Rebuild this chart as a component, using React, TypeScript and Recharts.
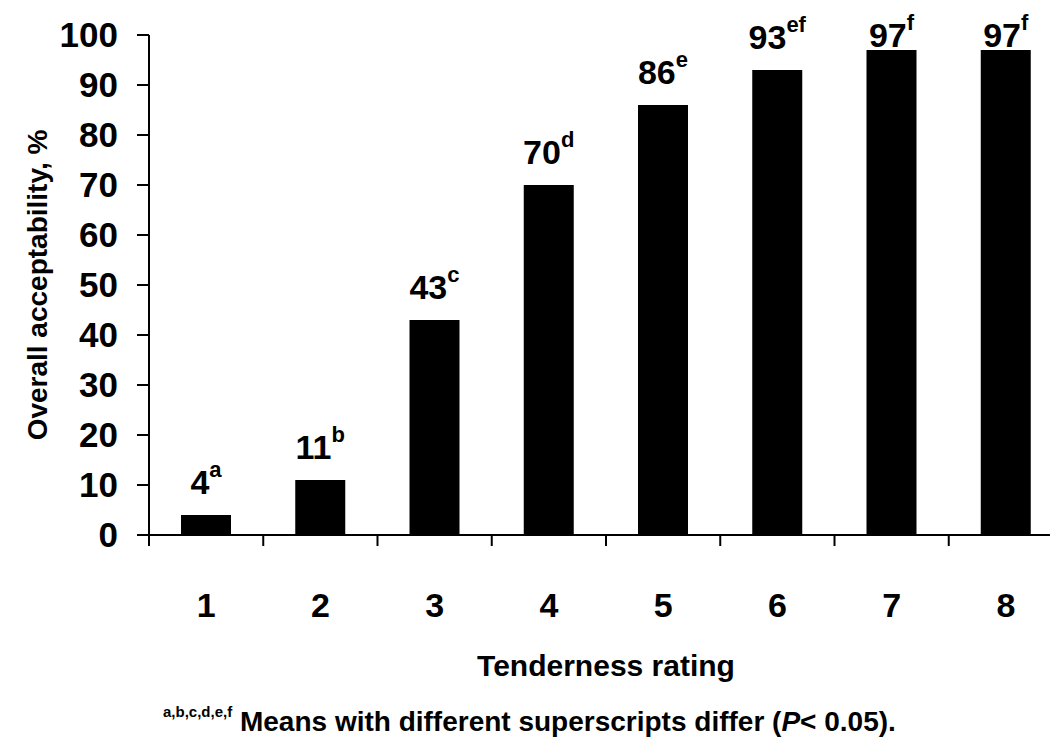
import { Bar, BarChart, LabelList, XAxis, YAxis } from "recharts";

const ratings = ["1", "2", "3", "4", "5", "6", "7", "8"];
const acceptability = [4, 11, 43, 70, 86, 93, 97, 97];
const superscripts = ["a", "b", "c", "d", "e", "ef", "f", "f"];
const yTicks = [0, 10, 20, 30, 40, 50, 60, 70, 80, 90, 100];

const data = ratings.map((rating, i) => ({
  rating,
  value: acceptability[i],
  sup: superscripts[i],
}));

const FONT = "'Liberation Sans', Arial, Helvetica, sans-serif";

// ticks sit between the categories, labels under the centres
function RatingTick(props: any) {
  const { x, y, payload } = props;
  const half = payload && payload.offset ? payload.offset : 57;
  return (
    <g>
      <line x1={x - half} x2={x - half} y1={y} y2={y + 11} stroke="#000" strokeWidth={2} />
      <text x={x} y={y + 82} textAnchor="middle" fontFamily={FONT} fontWeight="bold" fontSize={34} fill="#000">
        {payload.value}
      </text>
    </g>
  );
}

function ValueLabel(props: any) {
  const { x, y, width, value, index } = props;
  const base = Math.max(y - 21, 47);
  return (
    <text x={x + width / 2} y={base} textAnchor="middle" fontFamily={FONT} fontWeight="bold" fill="#000">
      <tspan fontSize={34}>{value}</tspan>
      <tspan fontSize={22} dy={-17}>{superscripts[index]}</tspan>
    </text>
  );
}

export default function App() {
  return (
    <div
      style={{
        position: "absolute",
        left: 0,
        top: 0,
        width: 1050,
        height: 740,
        overflow: "hidden",
        background: "#fff",
      }}
    >
      <BarChart
        width={1070}
        height={740}
        data={data}
        margin={{ top: 35, right: 7, left: 0, bottom: 145 }}
        barSize={50}
      >
        <XAxis
          dataKey="rating"
          height={60}
          axisLine={{ stroke: "#000", strokeWidth: 2 }}
          tickLine={false}
          tickSize={0}
          tickMargin={0}
          tick={<RatingTick />}
          interval={0}
        />
        <YAxis
          width={149}
          domain={[0, 100]}
          ticks={yTicks}
          interval={0}
          axisLine={{ stroke: "#000", strokeWidth: 2 }}
          tickLine={{ stroke: "#000", strokeWidth: 2 }}
          tickSize={12}
          tickMargin={19}
          tick={{ fill: "#000", fontSize: 35, fontWeight: "bold", fontFamily: FONT }}
        />
        <Bar dataKey="value" fill="#000" isAnimationActive={false}>
          <LabelList dataKey="value" content={<ValueLabel />} />
        </Bar>
      </BarChart>
      <svg
        width={1050}
        height={740}
        style={{ position: "absolute", left: 0, top: 0, pointerEvents: "none" }}
        fontFamily={FONT}
        fontWeight="bold"
        fill="#000"
      >
        <text transform="translate(47,285) rotate(-90)" textAnchor="middle" fontSize={28}>
          Overall acceptability, %
        </text>
        <text x={606} y={676} textAnchor="middle" fontSize={30}>
          Tenderness rating
        </text>
        <text x={163} y={731} fontSize={28}>
          <tspan fontSize={15} dy={-14}>a,b,c,d,e,f</tspan>
          <tspan dy={14}> Means with different superscripts differ (</tspan>
          <tspan fontStyle="italic">P</tspan>
          <tspan>&lt; 0.05).</tspan>
        </text>
      </svg>
    </div>
  );
}
